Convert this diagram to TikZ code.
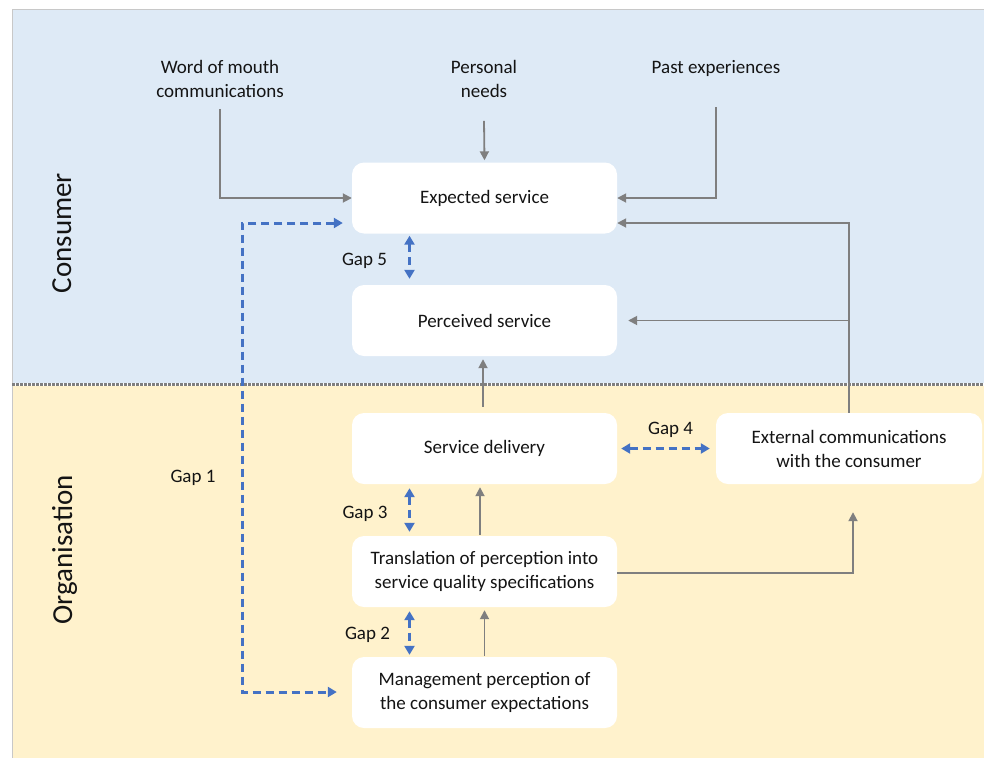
\documentclass[tikz,border=0pt]{standalone}
\usepackage{fontspec}
\setmainfont{Carlito}
\usetikzlibrary{arrows.meta}
\definecolor{consumerbg}{HTML}{DEEAF6}
\definecolor{orgbg}{HTML}{FFF2CC}
\definecolor{linkgray}{HTML}{7F7F7F}
\definecolor{gapblue}{HTML}{4472C4}
\definecolor{inkdark}{HTML}{141414}
\definecolor{edgegray}{HTML}{C8C8C8}

\begin{document}
\begin{tikzpicture}[x=1pt,y=-1pt,
  font=\fontsize{19}{24}\selectfont, text=inkdark,
  stagebox/.style={fill=white, rounded corners=12pt, minimum width=265pt,
    minimum height=71pt, inner sep=0pt, align=center},
  plainlabel/.style={inner sep=0pt, align=center},
  sidelabel/.style={inner sep=0pt, rotate=90, anchor=base,
    font=\fontsize{29}{35}\selectfont},
  flow/.style={draw=linkgray, line width=1.8pt,
    -{Triangle[length=9pt,width=9pt]}},
  gaplink/.style={draw=gapblue, line width=3pt, dash pattern=on 8pt off 5pt,
    {Triangle[length=9pt,width=10pt]}-{Triangle[length=9pt,width=10pt]}},
]
\useasboundingbox (0,0) rectangle (984,758);

% two bands: consumer (top) and organisation (bottom)
\fill[consumerbg] (12,9) rectangle (984,384);
\fill[orgbg] (12,384) rectangle (984,758);
\draw[edgegray, line width=0.5pt] (12.5,9.3) -- (984,9.3);
\draw[edgegray, line width=1.2pt] (12.5,9) -- (12.5,758);
\draw[white, line width=3pt] (12,384) -- (984,384);
\draw[linkgray, line width=3pt, dash pattern=on 2.5pt off 1.5pt] (12,384) -- (984,384);

% band titles
\node[sidelabel] (consumer) at (71,233) {Consumer};
\node[sidelabel] (organisation) at (72,550) {Organisation};

% influences on the expected service
\node[plainlabel] (wom) at (220,79) {Word of mouth\\communications};
\node[plainlabel] (needs) at (484,79) {Personal\\needs};
\node[plainlabel] (past) at (716,68) {Past experiences};

% stages
\node[stagebox] (exp) at (484.5,198) {Expected service};
\node[stagebox] (per) at (484.5,320.5) {Perceived service};
\node[stagebox] (sd) at (484.5,448.5) {Service delivery};
\node[stagebox] (tr) at (484.5,571.5) {Translation of perception into\\service quality specifications};
\node[stagebox] (mg) at (484.5,692.5) {Management perception of\\the consumer expectations};
\node[stagebox, minimum width=266pt] (ext) at (849,448.5) {External communications\\with the consumer};

% gap labels
\node[plainlabel] (gap1) at (193,478) {Gap 1};
\node[plainlabel] (gap5) at (364.5,261) {Gap 5};
\node[plainlabel] (gap4) at (670.5,430) {Gap 4};
\node[plainlabel] (gap3) at (365,514) {Gap 3};
\node[plainlabel] (gap2) at (367.5,635) {Gap 2};

% grey flows
\draw[flow] ([yshift=-11pt]wom.south) |- (exp.west);
\draw[flow] ([yshift=-23pt]needs.south) -- ([yshift=2pt]exp.north);
\draw[flow] ([yshift=-31pt]past.south) |- (exp.east);
\draw[flow] (ext.north) |- ([yshift=-25pt]exp.east);
\draw[flow] (ext.north |- per.east) -- ([xshift=11pt]per.east);
\draw[flow] ([xshift=-1.5pt,yshift=6pt]sd.north) -- ([xshift=-1.5pt,yshift=-3pt]per.south);
\draw[flow] ([xshift=-4.5pt,yshift=1pt]tr.north) -- ([xshift=-4.5pt,yshift=-3pt]sd.south);
\draw[flow] ([yshift=1pt]mg.north) -- ([yshift=-3pt]tr.south);
\draw[flow] ([yshift=-1.5pt]tr.east) -| ([xshift=4pt,yshift=-28pt]ext.south);

% gaps
\coordinate (gapbend) at (242,450);
\draw[gaplink] ([xshift=-9pt,yshift=-25pt]exp.west) -| (gapbend) |- ([xshift=-15pt,yshift=0.5pt]mg.west);
\draw[gaplink] ([xshift=-75pt,yshift=-2pt]exp.south) -- ([xshift=-75pt,yshift=6pt]per.north);
\draw[gaplink] ([xshift=4pt]sd.east) -- ([xshift=-6pt]ext.west);
\draw[gaplink] ([xshift=-75pt,yshift=-4pt]sd.south) -- ([xshift=-75pt,yshift=4pt]tr.north);
\draw[gaplink] ([xshift=-75pt,yshift=-4pt]tr.south) -- ([xshift=-75pt,yshift=2pt]mg.north);
\end{tikzpicture}
\end{document}
